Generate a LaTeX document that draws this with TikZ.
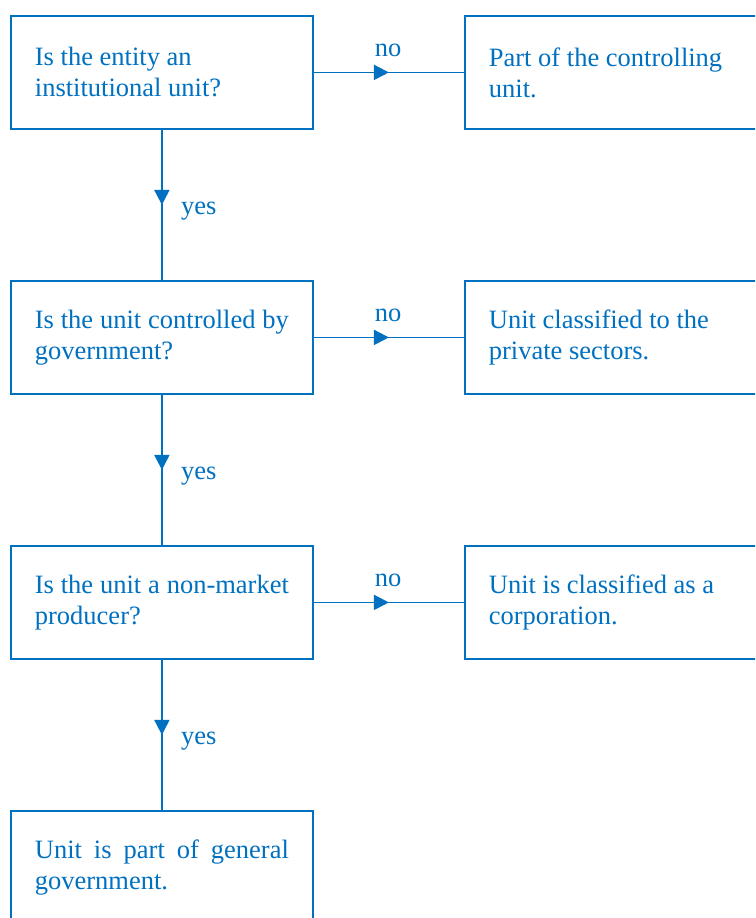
\documentclass[tikz,border=0pt]{standalone}
\usepackage{fontspec}
\setmainfont{Liberation Serif}
\usetikzlibrary{arrows.meta,decorations.markings}
\definecolor{fcblue}{RGB}{0,112,192}
\begin{document}
\begin{tikzpicture}[x=1pt,y=-1pt,
  box/.style={draw=fcblue,line width=1.8pt,text=fcblue,font=\fontsize{26.5}{31}\selectfont,
    minimum height=113pt,inner xsep=24pt,inner ysep=0pt,anchor=north west,align=justify},
  lbox/.style={box,text width=254pt},
  rbox/.style={box,text width=262pt},
  flow/.style={draw=fcblue,line width=1.8pt,
    postaction={decorate},decoration={markings,mark=at position 0.5 with {\arrow{Triangle[length=15pt,width=15pt]}}}},
  lab/.style={text=fcblue,font=\fontsize{26.5}{31}\selectfont,inner sep=0pt}]
\useasboundingbox (0,0) rectangle (755,918);
\begin{scope}
\clip (0,0) rectangle (755,918);
\node[lbox] (q1) at (10,15) {Is the entity an\\institutional unit?};
\node[rbox] (r1) at (464,15) {Part of the controlling\\unit.};
\node[lbox] (q2) at (10,280) {Is the unit controlled by government?};
\node[rbox] (r2) at (464,280) {Unit classified to the\\private sectors.};
\node[lbox] (q3) at (10,545) {Is the unit a non-market producer?};
\node[rbox] (r3) at (464,545) {Unit is classified as a\\corporation.};
\node[lbox] (q4) at (10,810) {Unit is part of general\linebreak government.};
\end{scope}
\draw[flow] (q1.east) -- (r1.west |- q1.east);
\draw[flow] (q2.east) -- (r2.west |- q2.east);
\draw[flow] (q3.east) -- (r3.west |- q3.east);
\draw[flow] (q1.south) -- (q2.north);
\draw[flow] (q2.south) -- (q3.north);
\draw[flow] (q3.south) -- (q4.north);
\node[lab,anchor=base] (n1) at (388,56) {no};
\node[lab,anchor=base] (n2) at (388,321) {no};
\node[lab,anchor=base] (n3) at (388,586) {no};
\node[lab,anchor=base west] (y1) at (181,214) {yes};
\node[lab,anchor=base west] (y2) at (181,479) {yes};
\node[lab,anchor=base west] (y3) at (181,744) {yes};
\end{tikzpicture}
\end{document}
